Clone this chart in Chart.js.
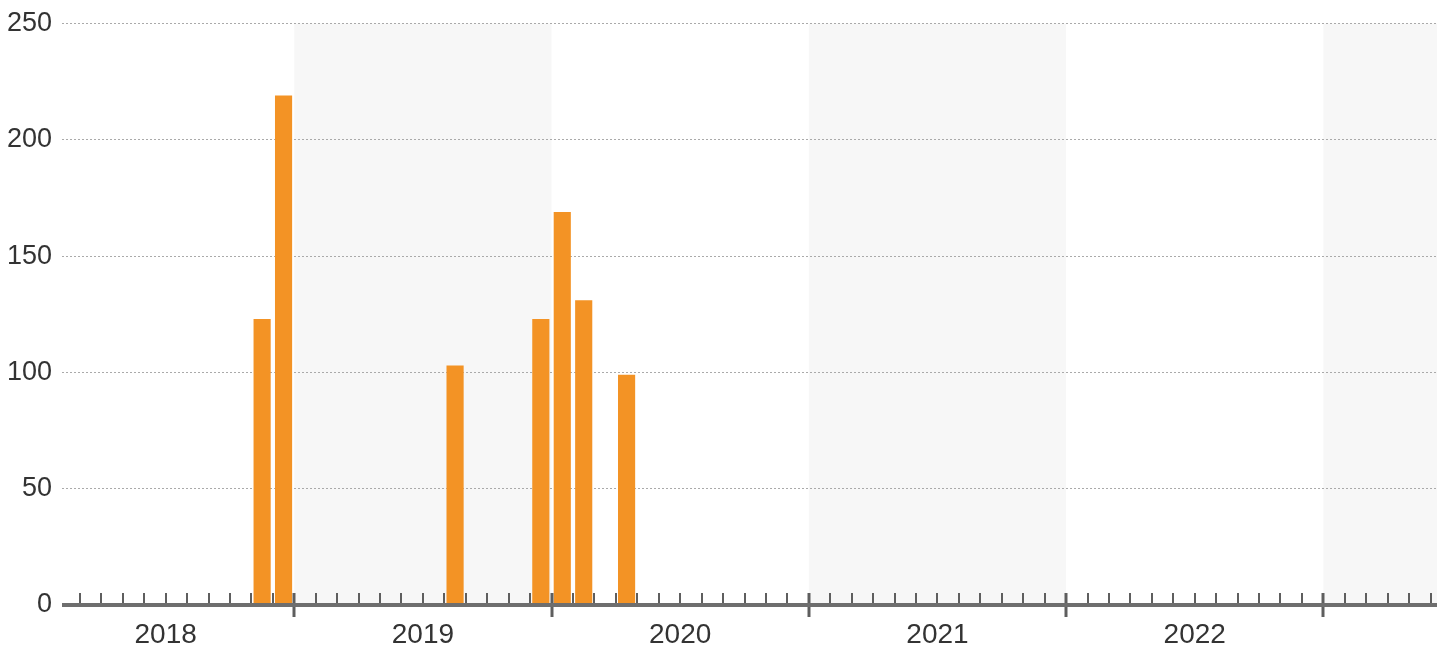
<!DOCTYPE html>
<html>
<head>
<meta charset="utf-8">
<script src="https://cdn.jsdelivr.net/npm/chart.js@4"></script>
<style>
  html, body { margin: 0; padding: 0; background: #fff; }
  #wrap { width: 1448px; height: 649px; }
</style>
</head>
<body>
<div id="wrap"><canvas id="chart" width="1448" height="649"></canvas></div>
<script>
// data
const months = ['2018-11', '2018-12', '2019-08', '2019-12', '2020-01', '2020-02', '2020-04'];
const values = [123, 219, 103, 123, 169, 131, 99];
const yearLabels = ['2018', '2019', '2020', '2021', '2022', '2023'];
const yTicks = [0, 50, 100, 150, 200, 250];

const baseYear = 2018;
// month index, 0 = Jan 2018; bars sit in the middle of their month
function monthPos(s) {
    const [y, m] = s.split('-').map(Number);
    return (y - baseYear) * 12 + (m - 1) + 0.5;
}

const points = months.map((m, i) => ({ x: monthPos(m), y: values[i] }));

const FONT = '"Liberation Sans", Arial, sans-serif';

// year bands, month ticks and year labels
const timeAxis = {
    id: 'timeAxis',
    beforeDraw(chart) {
        const { ctx, chartArea, scales } = chart;
        const x = scales.x;
        ctx.save();
        ctx.fillStyle = '#f7f7f7';
        yearLabels.forEach((yr, i) => {
            if (i % 2 === 0) return;
            const a = Math.max(x.getPixelForValue(i * 12), chartArea.left);
            const b = Math.min(x.getPixelForValue(i * 12 + 12), chartArea.right);
            if (b > a) ctx.fillRect(a, chartArea.top, b - a, chartArea.bottom - chartArea.top);
        });
        ctx.restore();
    },
    afterDatasetsDraw(chart) {
        const { ctx, chartArea, scales } = chart;
        const x = scales.x;
        const y0 = scales.y.getPixelForValue(0);
        ctx.save();
        // minor + major ticks
        for (let m = Math.ceil(x.min); m <= Math.floor(x.max); m++) {
            const px = Math.round(x.getPixelForValue(m));
            ctx.strokeStyle = '#5e5e5e';
            if (m % 12 === 0) {
                ctx.lineWidth = 3;
                ctx.beginPath();
                ctx.moveTo(px, y0 - 12);
                ctx.lineTo(px, y0 + 12);
                ctx.stroke();
            } else {
                ctx.lineWidth = 2;
                ctx.beginPath();
                ctx.moveTo(px, y0 - 12);
                ctx.lineTo(px, y0);
                ctx.stroke();
            }
        }
        // axis line
        ctx.strokeStyle = '#6e6e6e';
        ctx.lineWidth = 4;
        ctx.beginPath();
        ctx.moveTo(chartArea.left, y0);
        ctx.lineTo(chartArea.right, y0);
        ctx.stroke();
        // year labels centred in each year
        ctx.fillStyle = '#333';
        ctx.font = '28px ' + FONT;
        ctx.textAlign = 'center';
        ctx.textBaseline = 'middle';
        yearLabels.forEach((yr, i) => {
            const mid = i * 12 + 6;
            if (mid < x.min || mid > x.max) return;
            ctx.fillText(yr, x.getPixelForValue(mid), y0 + 30);
        });
        ctx.restore();
    }
};

const ctx = document.getElementById('chart').getContext('2d');
new Chart(ctx, {
    type: 'bar',
    data: {
        datasets: [{
            data: points,
            backgroundColor: '#f39325',
            categoryPercentage: 1,
            barPercentage: 0.8
        }]
    },
    options: {
        responsive: false,
        animation: false,
        layout: { padding: { top: 8, right: 11, bottom: 44, left: 0 } },
        plugins: {
            legend: { display: false },
            tooltip: { enabled: false }
        },
        scales: {
            x: {
                type: 'linear',
                min: 1.166,
                max: 65.3,
                offset: false,
                grid: { offset: false },
                display: false
            },
            y: {
                min: 0,
                max: 250,
                afterBuildTicks(scale) {
                    scale.ticks = yTicks.map(v => ({ value: v }));
                },
                afterFit(scale) { scale.width = 62; },
                border: { display: false, dash: [2, 2] },
                grid: {
                    drawTicks: false,
                    borderDash: [2, 2],
                    lineWidth: 1,
                    color: c => (c.tick && c.tick.value === 0) ? 'rgba(0,0,0,0)' : '#aaa'
                },
                ticks: {
                    padding: 10,
                    color: '#333',
                    font: { size: 27, family: FONT, lineHeight: 1 }
                }
            }
        }
    },
    plugins: [timeAxis]
});
</script>
</body>
</html>
